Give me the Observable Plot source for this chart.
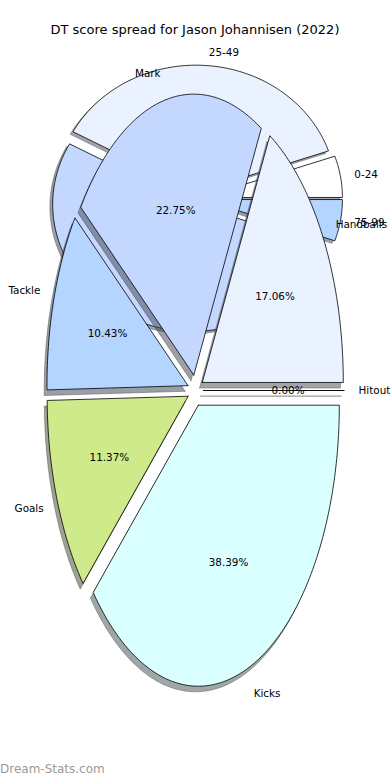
<!DOCTYPE html>
<html>
<head>
<meta charset="utf-8">
<script src="https://cdn.jsdelivr.net/npm/d3@7"></script>
<script src="https://cdn.jsdelivr.net/npm/@observablehq/plot@0.6"></script>
<style>
  html, body { margin: 0; padding: 0; background: #ffffff; }
  body { width: 390px; height: 780px; position: relative; overflow: hidden; font-family: "DejaVu Sans", sans-serif; }
  #title { position: relative; height: 46px; }
  #title span { position: absolute; left: 0; right: 0; top: 22px; text-align: center; font-size: 13px; line-height: 15px; color: #000; white-space: nowrap; }
  #chart svg { display: block; }
  #wm { position: absolute; left: 0; top: 762px; font-size: 12px; line-height: 15px; color: #9a9a9a; white-space: nowrap; }
</style>
</head>
<body>
<div id="title"><span>DT score spread for Jason Johannisen (2022)</span></div>
<div id="chart"></div>
<div id="wm">Dream-Stats.com</div>
<script>
// ---- data ----
const innerCategories = ["Hitout", "Handballs", "Mark", "Tackle", "Goals", "Kicks"];
const innerPercent = [0.00, 17.06, 22.75, 10.43, 11.37, 38.39];
const outerCategories = ["0-24", "25-49", "50-74", "75-99"];
const outerGames = [1, 7, 10, 1];
const palette = ["#ffffff", "#ebf2ff", "#c4d8ff", "#b3d5ff", "#cfea8a", "#d9ffff"];

// ---- layout (pixels) ----
const W = 390, TOP = 46, H = 700;
const CX = 195, CY = 390 - TOP, RX = 141, RY = 281;
const xDomain = [-CX / RX, (W - CX) / RX];
const yDomain = [(CY - H) / RY, CY / RY];

const innerPie = {cx: 0, cy: 0, rx: 1, ry: 1, explode: 0.056};
const outerPie = {cx: 0, cy: (390 - 198) / RY, rx: 140 / RX, ry: 127 / RY, explode: 0.05};

function buildWedges(values, cats, pie) {
  const total = d3.sum(values);
  let acc = 0;
  return values.map((v, i) => {
    const a0 = acc / total * 2 * Math.PI;
    acc += v;
    const a1 = acc / total * 2 * Math.PI;
    const mid = (a0 + a1) / 2;
    const ox = pie.cx + pie.explode * pie.rx * Math.cos(mid);
    const oy = pie.cy + pie.explode * pie.ry * Math.sin(mid);
    const n = Math.max(1, Math.ceil((a1 - a0) / (Math.PI / 180)));
    const pts = [{x: ox, y: oy}];
    for (let k = 0; k <= n; k++) {
      const a = a0 + (a1 - a0) * k / n;
      pts.push({x: ox + pie.rx * Math.cos(a), y: oy + pie.ry * Math.sin(a)});
    }
    pts.push({x: ox, y: oy});
    const c = d3.rgb(palette[i % palette.length]);
    const shadowColor = d3.rgb(c.r * 0.3, c.g * 0.3, c.b * 0.3).formatHex();
    const sdx = -0.02 * pie.rx, sdy = -0.02 * pie.ry;
    const shadowPts = pts.map(p => ({x: p.x + sdx, y: p.y + sdy}));
    const cosm = Math.cos(mid), sinm = Math.sin(mid);
    const lx = ox + 1.1 * pie.rx * cosm, ly = oy + 1.1 * pie.ry * sinm;
    return {
      cat: cats[i], pct: v / total * 100, color: c.formatHex(), shadowColor, pts, shadowPts,
      lx, ly,
      px: ox + 0.6 * pie.rx * cosm, py: oy + 0.6 * pie.ry * sinm,
      anchor: (lx - pie.cx) > 0 ? "start" : "end",
      // a label of the back pie that falls inside the front (inner) pie is hidden by it
      hidden: pie !== innerPie && (lx * lx + ly * ly) < 1
    };
  });
}

const outerW = buildWedges(outerGames, outerCategories, outerPie);
const innerW = buildWedges(innerPercent, innerCategories, innerPie);

const FS = 10.4;
function pieMarks(ws, withPct) {
  const m = [];
  const shown = ws.filter(w => !w.hidden);
  ws.forEach(w => m.push(Plot.line(w.shadowPts, {x: "x", y: "y", fill: w.shadowColor, fillOpacity: 0.5, stroke: w.shadowColor, strokeOpacity: 0.5, strokeWidth: 0.8, strokeLinejoin: "miter"})));
  ws.forEach(w => m.push(Plot.line(w.pts, {x: "x", y: "y", fill: w.color, stroke: "#000", strokeWidth: 0.8, strokeLinejoin: "miter"})));
  m.push(Plot.text(shown.filter(w => w.anchor === "start"), {x: "lx", y: "ly", text: "cat", textAnchor: "start", fontSize: FS, fill: "#000"}));
  m.push(Plot.text(shown.filter(w => w.anchor === "end"), {x: "lx", y: "ly", text: "cat", textAnchor: "end", fontSize: FS, fill: "#000"}));
  if (withPct) m.push(Plot.text(ws, {x: "px", y: "py", text: d => d.pct.toFixed(2) + "%", textAnchor: "middle", fontSize: FS, fill: "#000"}));
  return m;
}

const chart = Plot.plot({
  width: W,
  height: H,
  margin: 0,
  style: {background: "transparent", fontFamily: "DejaVu Sans, sans-serif", overflow: "visible"},
  x: {domain: xDomain, axis: null},
  y: {domain: yDomain, axis: null},
  marks: [
    ...pieMarks(outerW, false),
    ...pieMarks(innerW, true)
  ]
});
document.getElementById("chart").appendChild(chart);
</script>
</body>
</html>
